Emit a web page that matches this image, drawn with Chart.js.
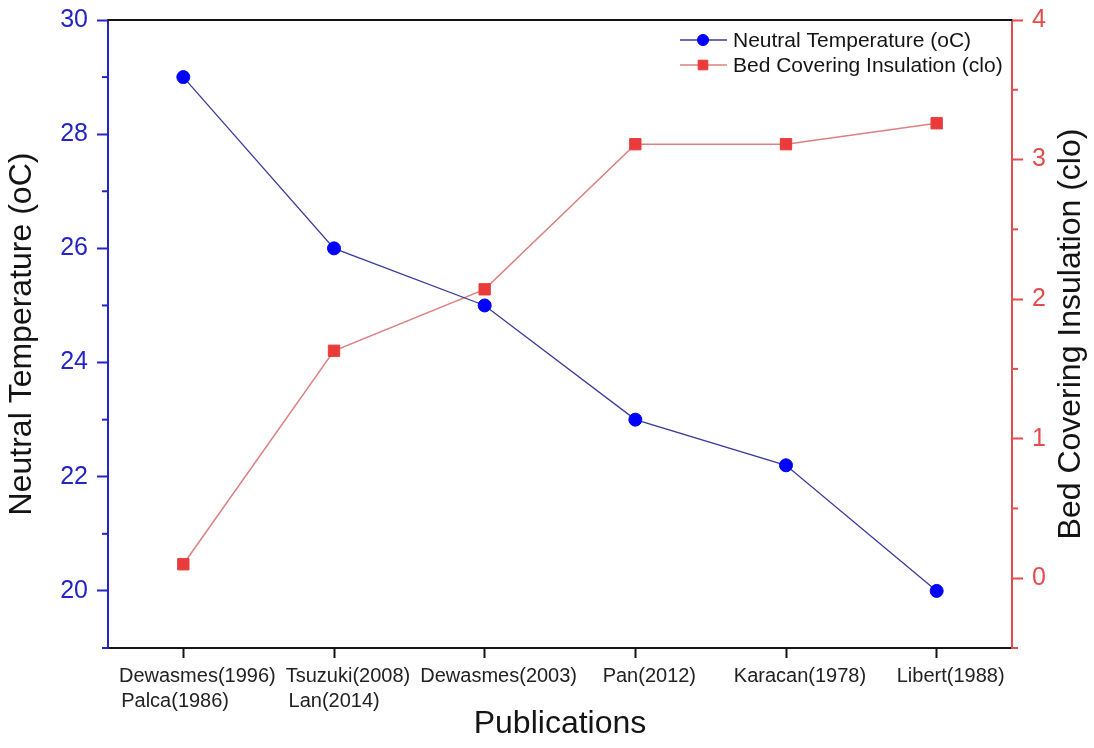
<!DOCTYPE html>
<html>
<head>
<meta charset="utf-8">
<title>Neutral Temperature and Bed Covering Insulation</title>
<script src="https://cdn.jsdelivr.net/npm/chart.js@4.4.1/dist/chart.umd.min.js"></script>
<style>
  html, body { margin: 0; padding: 0; background: #fff; }
  #wrap { width: 1094px; height: 748px; }
</style>
</head>
<body>
<div id="wrap"><canvas id="chart" width="1094" height="748"></canvas></div>
<script>
// --- Data ---
const publications = [
    ['Dewasmes(1996)', 'Palca(1986)'],
    ['Tsuzuki(2008)', 'Lan(2014)'],
    'Dewasmes(2003)',
    'Pan(2012)',
    'Karacan(1978)',
    'Libert(1988)'
];
const neutralTemp = [29, 26, 25, 23, 22.2, 20];
const bedInsulation = [0.1, 1.63, 2.07, 3.11, 3.11, 3.26];

const tempTicks = [20, 22, 24, 26, 28, 30];
const tempMinorTicks = [19, 21, 23, 25, 27, 29];
const cloTicks = [0, 1, 2, 3, 4];
const cloMinorTicks = [-0.5, 0.5, 1.5, 2.5, 3.5];

// --- Styles ---
const FONT = "'Liberation Sans', Arial, sans-serif";
const BLUE = '#2424c6';
const RED = '#e24c4c';
const INK = '#141414';

Chart.defaults.font.family = FONT;

// two-line labels: pad the short line so both lines start at the same x
const measureCtx = document.createElement('canvas').getContext('2d');
function leftAlignLines(label, font) {
    if (!Array.isArray(label)) return label;
    measureCtx.font = font;
    const widest = Math.max(...label.map(l => measureCtx.measureText(l).width));
    return label.map(l => {
        let s = l;
        while (measureCtx.measureText(s + ' ').width <= widest) s += ' ';
        return s;
    });
}

// fixed box for the vertical axes, chart area set by the layout padding
function fitVertical(width) {
    return s => {
        s.width = width;
        s.paddingTop = 0;
        s.paddingBottom = 0;
    };
}

// minor ticks, top frame line and the right title (reads bottom to top)
const axisExtras = {
    id: 'axisExtras',
    afterDraw(chart) {
        const { ctx, chartArea } = chart;
        const yL = chart.scales.y;
        const yR = chart.scales.y1;
        ctx.save();
        ctx.lineWidth = 2;

        ctx.strokeStyle = BLUE;
        tempMinorTicks.forEach(v => {
            const py = yL.getPixelForValue(v);
            ctx.beginPath(); ctx.moveTo(yL.right - 6, py); ctx.lineTo(yL.right, py); ctx.stroke();
        });

        ctx.strokeStyle = RED;
        cloMinorTicks.forEach(v => {
            const py = yR.getPixelForValue(v);
            ctx.beginPath(); ctx.moveTo(yR.left, py); ctx.lineTo(yR.left + 6, py); ctx.stroke();
        });

        ctx.strokeStyle = INK;
        ctx.beginPath();
        ctx.moveTo(chartArea.left, chartArea.top);
        ctx.lineTo(chartArea.right, chartArea.top);
        ctx.stroke();

        ctx.translate(yR.right - 23, (chartArea.top + chartArea.bottom) / 2);
        ctx.rotate(-Math.PI / 2);
        ctx.fillStyle = INK;
        ctx.font = '32px ' + FONT;
        ctx.textAlign = 'center';
        ctx.textBaseline = 'middle';
        ctx.fillText('Bed Covering Insulation (clo)', 0, 0);
        ctx.restore();
    }
};

// legend drawn inside the plot, top right
function drawMarker(ctx, ds, x, y) {
    ctx.fillStyle = ds.pointBackgroundColor;
    ctx.strokeStyle = ds.pointBorderColor;
    ctx.lineWidth = 1;
    ctx.beginPath();
    if (ds.pointStyle === 'rect') {
        const h = ds.pointRadius * Math.SQRT1_2 * 0.85;
        ctx.rect(x - h, y - h, h * 2, h * 2);
    } else {
        ctx.arc(x, y, ds.pointRadius * 0.85, 0, Math.PI * 2);
    }
    ctx.fill(); ctx.stroke();
}

const insideLegend = {
    id: 'insideLegend',
    afterDraw(chart) {
        const { ctx, chartArea } = chart;
        const x0 = chartArea.right - 332;
        chart.data.datasets.forEach((ds, i) => {
            const yRow = chartArea.top + 20 + i * 25;
            ctx.save();
            ctx.strokeStyle = ds.borderColor;
            ctx.lineWidth = ds.borderWidth;
            ctx.beginPath(); ctx.moveTo(x0, yRow); ctx.lineTo(x0 + 47, yRow); ctx.stroke();
            drawMarker(ctx, ds, x0 + 23, yRow);
            ctx.fillStyle = INK;
            ctx.font = '21px ' + FONT;
            ctx.textAlign = 'left';
            ctx.textBaseline = 'middle';
            ctx.fillText(ds.label, x0 + 53, yRow + 1);
            ctx.restore();
        });
    }
};

const ctx = document.getElementById('chart').getContext('2d');
new Chart(ctx, {
    type: 'line',
    data: {
        labels: publications,
        datasets: [{
            label: 'Neutral Temperature (oC)',
            data: neutralTemp,
            yAxisID: 'y',
            borderColor: '#3a3a9e',
            borderWidth: 1.3,
            pointStyle: 'circle',
            pointRadius: 6.5,
            pointBorderWidth: 1,
            pointBackgroundColor: '#0000ff',
            pointBorderColor: '#0000ff',
            tension: 0
        }, {
            label: 'Bed Covering Insulation (clo)',
            data: bedInsulation,
            yAxisID: 'y1',
            borderColor: '#dc8080',
            borderWidth: 1.5,
            pointStyle: 'rect',
            pointRadius: 8,
            pointBorderWidth: 1,
            pointBackgroundColor: '#ea3b3b',
            pointBorderColor: '#ea3b3b',
            tension: 0
        }]
    },
    options: {
        responsive: false,
        animation: false,
        devicePixelRatio: 1,
        layout: { padding: { top: 20, left: 0, right: 0, bottom: 0 } },
        plugins: {
            legend: { display: false },
            tooltip: { enabled: false }
        },
        scales: {
            x: {
                type: 'category',
                offset: true,
                grid: { drawOnChartArea: false, drawTicks: true, tickLength: 10, tickColor: INK, tickWidth: 2 },
                border: { display: true, color: INK, width: 2 },
                ticks: {
                    color: '#222',
                    font: { size: 20, lineHeight: 1.25 },
                    padding: 6,
                    maxRotation: 0,
                    autoSkip: false,
                    labelOffset: 14,
                    callback: function (value) {
                        return leftAlignLines(this.getLabelForValue(value), '20px ' + FONT);
                    }
                },
                title: { display: true, text: 'Publications', color: INK, font: { size: 32 }, padding: { top: 0, bottom: 5 } },
                afterFit: s => { s.height = 100; s.paddingLeft = 0; s.paddingRight = 0; }
            },
            y: {
                position: 'left',
                min: 19,
                max: 30,
                afterBuildTicks: s => { s.ticks = tempTicks.map(v => ({ value: v })); },
                grid: { drawOnChartArea: false, drawTicks: true, tickLength: 11, tickColor: BLUE, tickWidth: 2 },
                border: { display: true, color: BLUE, width: 2 },
                ticks: { color: BLUE, font: { size: 25 }, padding: 9 },
                title: { display: true, text: 'Neutral Temperature (oC)', color: INK, font: { size: 32 }, padding: { top: 3, bottom: 0 } },
                afterFit: fitVertical(108)
            },
            y1: {
                position: 'right',
                min: -0.5,
                max: 4,
                afterBuildTicks: s => { s.ticks = cloTicks.map(v => ({ value: v })); },
                grid: { drawOnChartArea: false, drawTicks: true, tickLength: 11, tickColor: RED, tickWidth: 2 },
                border: { display: true, color: RED, width: 2 },
                ticks: { color: RED, font: { size: 25 }, padding: 9 },
                afterFit: fitVertical(82)
            }
        }
    },
    plugins: [axisExtras, insideLegend]
});
</script>
</body>
</html>
